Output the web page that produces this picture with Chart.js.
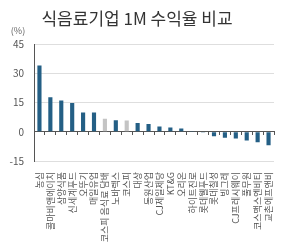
<!DOCTYPE html>
<html>
<head>
<meta charset="utf-8">
<script src="https://cdn.jsdelivr.net/npm/chart.js"></script>
<style>
  html, body { margin: 0; padding: 0; background: #fff; }
  #wrap { width: 300px; height: 245px; }
</style>
</head>
<body>
<div id="wrap"><canvas id="chart"></canvas></div>
<script>
// 1M returns (%) by company / index
const companies = ['농심', '콜마비앤에이치', '삼양식품', '신세계푸드', '오뚜기', '매일유업',
  '코스피 음식료 담배', '노바렉스', '코스피', '대상', '동원산업', 'CJ제일제당', 'KT&G',
  '오리온', '하이트진로', '롯데웰푸드', '롯데칠성', '빙그레', 'CJ프레시웨이', '풀무원',
  '코스맥스엔비티', '교촌에프앤비'];
const returns1M = [34.2, 17.8, 16.1, 14.9, 10.0, 10.0, 6.7, 6.0, 5.8, 4.5, 4.1, 2.8, 2.2,
  1.7, 0.2, -0.1, -2.2, -3.0, -3.4, -4.5, -5.3, -6.9];
const indexNames = ['코스피 음식료 담배', '코스피'];
const yTicks = [45, 30, 15, 0, -15];

const FONT = "'Noto Sans CJK KR', 'Noto Sans', sans-serif";

// "(%)" unit label above the y axis
const unitLabel = {
  id: 'unitLabel',
  afterDraw(chart) {
    const ctx = chart.ctx;
    ctx.save();
    ctx.font = '9px ' + FONT;
    ctx.fillStyle = '#666';
    ctx.textAlign = 'center';
    ctx.textBaseline = 'middle';
    ctx.fillText('(%)', 18, 31);
    ctx.restore();
  }
};

new Chart(document.getElementById('chart'), {
  type: 'bar',
  data: {
    labels: companies,
    datasets: [{
      data: returns1M,
      backgroundColor: companies.map(c => indexNames.includes(c) ? '#c4c4c4' : '#245f85'),
      barPercentage: 0.38,
      categoryPercentage: 1
    }]
  },
  options: {
    responsive: true,
    maintainAspectRatio: false,
    animation: false,
    layout: { padding: { left: 0, right: 26, bottom: 0 } },
    plugins: {
      legend: { display: false },
      tooltip: { enabled: false },
      title: {
        display: true,
        text: '식음료기업 1M 수익율 비교',
        color: '#333',
        font: { family: FONT, size: 17, weight: 'normal' },
        padding: { top: 8, bottom: 16 }
      }
    },
    scales: {
      x: {
        grid: { display: false },
        border: { display: false },
        ticks: {
          autoSkip: false,
          minRotation: 90,
          maxRotation: 90,
          padding: 3,
          color: '#555',
          font: { family: FONT, size: 9 }
        },
        afterFit(scale) { scale.height = 84; }
      },
      x0: {
        position: { y: 0 },
        grid: { offset: true, drawOnChartArea: false, drawTicks: true, tickLength: 3, color: '#555' },
        border: { display: true, color: '#555', width: 1 },
        ticks: { display: false }
      },
      y: {
        min: -15,
        max: 45,
        afterBuildTicks(scale) { scale.ticks = yTicks.map(v => ({ value: v })); },
        grid: {
          color: ctx => ctx.tick && ctx.tick.value === 0 ? 'rgba(0,0,0,0)' : '#dedede',
          drawTicks: false
        },
        border: { display: true, color: '#555', width: 1 },
        ticks: {
          padding: 10,
          color: '#555',
          font: { family: FONT, size: 10 }
        },
        afterFit(scale) { scale.width = 34; }
      }
    }
  },
  plugins: [unitLabel]
});
</script>
</body>
</html>
